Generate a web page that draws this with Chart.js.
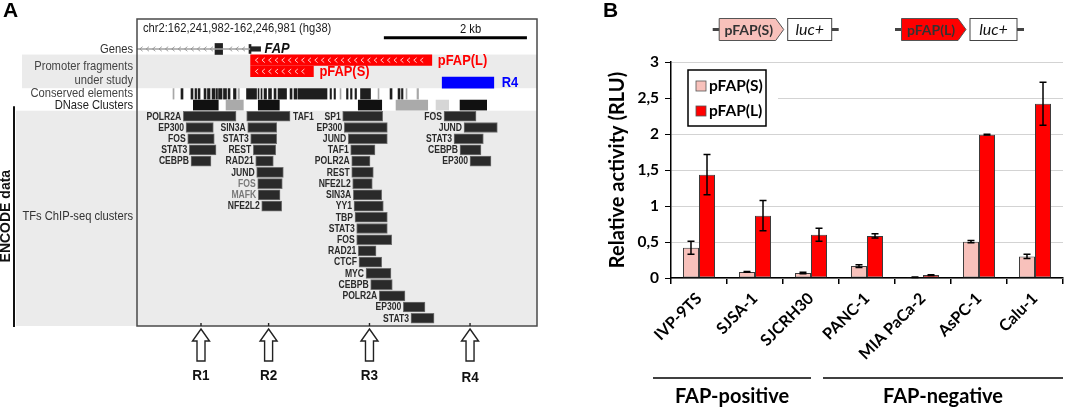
<!DOCTYPE html>
<html>
<head>
<title>FAP promoter activity</title>
<script src="https://cdn.jsdelivr.net/npm/chart.js"></script>
<style>
  body { margin: 0; background: #fff; }
  #wrap { position: relative; width: 1065px; height: 409px; overflow: hidden; }
  #chartA { position: absolute; left: 0; top: 0; }
  #chartB { position: absolute; left: 590px; top: 0; }
</style>
</head>
<body>
<div id="wrap">
  <canvas id="chartA" width="545" height="409"></canvas>
  <canvas id="chartB" width="475" height="409"></canvas>
</div>
<script>
// ---- Panel A: chr2:162,241,982-162,246,981 (hg38), positions in bp from window start
var windowText = 'chr2:162,241,982-162,246,981 (hg38)';
var scaleBar = [3090, 4870];
var geneLine = [0, 1410];
var geneExons = [[975, 1070]];
var geneTss = [1420, 1545];
var fragL = [1420, 3685];
var fragS = [1420, 2205];
var regionR4 = [3815, 4460];

var conserved = [[450,463],[550,575],[675,700],[725,745],[763,788],[838,863],[881,913],[938,975],
  [988,1006],[1019,1063],[1081,1119],[1138,1163],[1206,1238],[1263,1280],[1369,1494],[1513,1525],
  [1550,1563],[1588,1619],[1644,1681],[1713,1738],[1763,1869],[1913,1938],[1963,2000],[2013,2375],
  [2413,2431],[2463,2481],[2538,2550],[2619,2638],[2669,2688],[2725,2744],[2794,2919],[3013,3025],
  [3163,3188],[3263,3288],[3306,3325],[3363,3375],[3500,3519]];
var conservedGray = [0,13,26,31,35,36];

var dnase = [[704,1016],[1113,1329],[1516,1779],[2766,3059],[3238,3634],[3738,3896],[4038,4371]];
var dnaseShade = ['#111','#aaaaaa','#111','#111','#aaaaaa','#d6d6d6','#111'];

var tfR1 = ['POLR2A','EP300','FOS','STAT3','CEBPB'];
var tfR1Pos = [[579,1238],[613,954],[634,966],[654,988],[675,925]];
var tfR2 = ['TAF1','SIN3A','STAT3','REST','RAD21','JUND','FOS','MAFK','NFE2L2'];
var tfR2Pos = [[1371,1913],[1384,1746],[1421,1746],[1454,1734],[1484,1704],[1496,1829],[1509,1816],[1516,1788],[1559,1809]];
var tfR3 = ['SP1','EP300','JUND','TAF1','POLR2A','REST','NFE2L2','SIN3A','YY1','TBP','STAT3','FOS','RAD21','CTCF','MYC','CEBPB','POLR2A','EP300','STAT3'];
var tfR3Pos = [[2571,3071],[2591,3129],[2641,3129],[2671,2975],[2684,2913],[2684,2954],[2696,2941],[2704,3059],[2713,3079],[2725,3129],
  [2746,3129],[2746,3184],[2766,2988],[2775,3059],[2863,3175],[2921,3191],[3029,3350],[3329,3600],[3425,3713]];
var tfR4 = ['FOS','JUND','STAT3','CEBPB','EP300'];
var tfR4Pos = [[3838,4238],[4088,4504],[3963,4329],[4038,4300],[4163,4425]];

var arrowNames = ['R1','R2','R3','R4'];
var arrowPos = [800, 1645, 2906, 4163];

// ---- Panel B: luciferase assay
var cellLines = ['IVP-9TS','SJSA-1','SJCRH30','PANC-1','MIA PaCa-2','AsPC-1','Calu-1'];
var actS = [0.42, 0.085, 0.07, 0.165, 0.01, 0.505, 0.30];
var errS = [0.09, 0.005, 0.01, 0.02, 0.003, 0.015, 0.03];
var actL = [1.435, 0.865, 0.60, 0.585, 0.04, 1.99, 2.42];
var errL = [0.28, 0.21, 0.09, 0.03, 0.004, 0.005, 0.30];
var yTicks = [0, 0.5, 1, 1.5, 2, 2.5, 3];
var groupNames = ['FAP-positive', 'FAP-negative'];
var groupFirst = [0, 3];
var groupLast = [2, 6];

var SX = 0.86;
function txt(ctx, s, x, y, size, o) {
  o = o || {};
  ctx.save();
  ctx.font = (o.style || '') + ' ' + (o.weight || 'normal') + ' ' + size + 'px ' + (o.family || '"Liberation Sans", Arial, sans-serif');
  ctx.fillStyle = o.color || '#222';
  ctx.textAlign = o.align || 'left';
  ctx.textBaseline = 'middle';
  ctx.translate(x, y);
  if (o.rot) ctx.rotate(o.rot);
  ctx.scale(o.sx == null ? SX : o.sx, 1);
  ctx.fillText(s, 0, 0);
  ctx.restore();
}

function bars(list, row) { return list.map(function (r) { return { x: r, y: row }; }); }
function rows(list) { return list.map(function (r, i) { return { x: r, y: i }; }); }

var tfGroups = [
  { names: tfR1, pos: tfR1Pos, right: -1, gray: [] },
  { names: tfR2, pos: tfR2Pos, right: 0, gray: [6, 7] },
  { names: tfR3, pos: tfR3Pos, right: -1, gray: [] },
  { names: tfR4, pos: tfR4Pos, right: -1, gray: [] }
];

var dsA = [
  { data: [{ x: scaleBar, y: -7 }], backgroundColor: '#000', barThickness: 2.5 },
  { data: [{ x: geneLine, y: -6 }], backgroundColor: '#a0a0a0', barThickness: 1 },
  { data: bars(geneExons, -6), backgroundColor: '#222', barThickness: 11 },
  { data: [{ x: [1400, 1425], y: -6 }], backgroundColor: '#222', barThickness: 9 },
  { data: [{ x: geneTss, y: -6 }], backgroundColor: '#222', barThickness: 4.5 },
  { data: [{ x: fragL, y: -5 }], backgroundColor: '#ff0000', barThickness: 10.5 },
  { data: [{ x: fragS, y: -4 }], backgroundColor: '#ff0000', barThickness: 10.5 },
  { data: [{ x: regionR4, y: -3 }], backgroundColor: '#0000ff', barThickness: 11 },
  { data: bars(conserved, -2), barThickness: 10.5,
    backgroundColor: conserved.map(function (c, i) { return conservedGray.indexOf(i) >= 0 ? '#a8a8a8' : '#1e1e1e'; }) },
  { data: bars(dnase, -1), backgroundColor: dnaseShade, barThickness: 10 }
];
tfGroups.forEach(function (g) {
  dsA.push({ data: rows(g.pos), backgroundColor: '#2a2a2a', borderColor: '#707070', borderWidth: 1,
    barThickness: 10, tf: g });
});

var panelA = {
  id: 'panelA',
  beforeDatasetsDraw: function (chart) {
    var ctx = chart.ctx, ca = chart.chartArea, y = chart.scales.y;
    ctx.save();
    ctx.fillStyle = '#ebebeb';
    var t = y.getPixelForValue(-5.5), b = y.getPixelForValue(-2.5);
    ctx.fillRect(22, t, ca.right - 22, b - t);
    var e = y.getPixelForValue(-0.5);
    ctx.fillRect(16, e, ca.right - 16, ca.bottom - e);
    ctx.restore();
  },
  afterDatasetsDraw: function (chart) {
    var ctx = chart.ctx, x = chart.scales.x, y = chart.scales.y, ca = chart.chartArea;
    // chevrons on gene line
    ctx.save();
    ctx.strokeStyle = '#8a8a8a'; ctx.lineWidth = 0.8;
    var gy = y.getPixelForValue(-6);
    for (var px = x.getPixelForValue(geneLine[0]) + 4; px < x.getPixelForValue(geneLine[1]) - 3; px += 6.4) {
      var inExon = geneExons.some(function (e) { return px > x.getPixelForValue(e[0]) - 3 && px < x.getPixelForValue(e[1]) + 2; });
      if (inExon) continue;
      ctx.beginPath(); ctx.moveTo(px + 1.6, gy - 2.3); ctx.lineTo(px - 1.2, gy); ctx.lineTo(px + 1.6, gy + 2.3); ctx.stroke();
    }
    // chevrons inside promoter fragments
    ctx.strokeStyle = '#fff'; ctx.lineWidth = 0.8;
    [[fragL, -5], [fragS, -4]].forEach(function (f) {
      var cy = y.getPixelForValue(f[1]);
      for (var p = x.getPixelForValue(f[0][0]) + 6; p < x.getPixelForValue(f[0][1]) - 8; p += 6.6) {
        ctx.beginPath(); ctx.moveTo(p + 1.6, cy - 2.4); ctx.lineTo(p - 1.2, cy); ctx.lineTo(p + 1.6, cy + 2.4); ctx.stroke();
      }
    });
    ctx.restore();
    // TF labels
    chart.data.datasets.forEach(function (ds, di) {
      if (!ds.tf) return;
      var meta = chart.getDatasetMeta(di);
      meta.data.forEach(function (el, i) {
        var l = Math.min(el.x, el.base), r = Math.max(el.x, el.base);
        var col = ds.tf.gray.indexOf(i) >= 0 ? '#7a7a7a' : '#2a2a2a';
        if (ds.tf.right === i) txt(ctx, ds.tf.names[i], r + 3, el.y + 0.5, 10, { weight: 'bold', color: col, align: 'left' });
        else txt(ctx, ds.tf.names[i], l - 2, el.y + 0.5, 10, { weight: 'bold', color: col, align: 'right' });
      });
    });
  },
  afterDraw: function (chart) {
    var ctx = chart.ctx, x = chart.scales.x, y = chart.scales.y, ca = chart.chartArea;
    ctx.save();
    ctx.strokeStyle = '#4a4a4a'; ctx.lineWidth = 1.5;
    ctx.strokeRect(ca.left, ca.top, ca.right - ca.left, ca.bottom - ca.top);
    // ENCODE bracket
    ctx.strokeStyle = '#111'; ctx.lineWidth = 2;
    ctx.beginPath(); ctx.moveTo(14, y.getPixelForValue(-0.9)); ctx.lineTo(14, ca.bottom + 1); ctx.stroke();
    ctx.restore();

    txt(ctx, 'A', 3, 11, 21, { weight: 'bold', color: '#000', sx: 1 });
    txt(ctx, windowText, ca.left + 6, y.getPixelForValue(-7.8), 13, { color: '#222' });
    txt(ctx, '2 kb', x.getPixelForValue(4170), y.getPixelForValue(-7.7), 13, { color: '#111', align: 'center' });
    txt(ctx, 'FAP', x.getPixelForValue(geneTss[1]) + 4, y.getPixelForValue(-6.05), 15, { style: 'italic', weight: 'bold', color: '#111' });
    txt(ctx, 'pFAP(L)', x.getPixelForValue(fragL[1]) + 6, y.getPixelForValue(-4.95), 15, { weight: 'bold', color: '#ff0000' });
    txt(ctx, 'pFAP(S)', x.getPixelForValue(fragS[1]) + 6, y.getPixelForValue(-3.95), 15, { weight: 'bold', color: '#ff0000' });
    txt(ctx, 'R4', x.getPixelForValue(regionR4[1]) + 8, y.getPixelForValue(-3), 15, { weight: 'bold', color: '#0000ff' });

    var lx = 133;
    txt(ctx, 'Genes', lx, y.getPixelForValue(-5.95), 13, { align: 'right', color: '#333' });
    txt(ctx, 'Promoter fragments', lx, y.getPixelForValue(-4.45), 13, { align: 'right', color: '#444' });
    txt(ctx, 'under study', lx, y.getPixelForValue(-3.2), 13, { align: 'right', color: '#444' });
    txt(ctx, 'Conserved elements', lx, y.getPixelForValue(-2), 13, { align: 'right', color: '#444' });
    txt(ctx, 'DNase Clusters', lx, y.getPixelForValue(-1), 13, { align: 'right', color: '#222' });
    txt(ctx, 'TFs ChIP-seq clusters', lx, y.getPixelForValue(8.9), 13, { align: 'right', color: '#333' });
    txt(ctx, 'ENCODE data', 6, y.getPixelForValue(8.9), 14, { weight: 'bold', color: '#111', align: 'center', rot: -Math.PI / 2, sx: 1 });

    // open arrows below the window
    ctx.save();
    ctx.strokeStyle = '#222'; ctx.lineWidth = 1.4; ctx.fillStyle = '#fff';
    arrowPos.forEach(function (p, i) {
      var ax = x.getPixelForValue(p), top = ca.bottom + 3;
      ctx.beginPath(); ctx.moveTo(ax, ca.bottom); ctx.lineTo(ax, ca.bottom - 3); ctx.stroke();
      ctx.beginPath();
      ctx.moveTo(ax, top); ctx.lineTo(ax + 8.5, top + 12); ctx.lineTo(ax + 4, top + 12); ctx.lineTo(ax + 4, top + 32);
      ctx.lineTo(ax - 4, top + 32); ctx.lineTo(ax - 4, top + 12); ctx.lineTo(ax - 8.5, top + 12); ctx.closePath();
      ctx.fill(); ctx.stroke();
      txt(ctx, arrowNames[i], ax, top + (i === 3 ? 49 : 47), 15, { weight: 'bold', color: '#111', align: 'center', sx: 0.9 });
    });
    ctx.restore();
  }
};

new Chart(document.getElementById('chartA'), {
  type: 'bar',
  data: { datasets: dsA },
  options: {
    indexAxis: 'y',
    responsive: false,
    animation: false,
    devicePixelRatio: 1,
    datasets: { bar: { grouped: false, borderSkipped: false } },
    layout: { padding: { left: 137, right: 8, top: 19, bottom: 83 } },
    scales: {
      x: { type: 'linear', min: 0, max: 5000, display: false },
      y: { type: 'linear', min: -8.67, max: 18.69, reverse: true, offset: false, display: false }
    },
    plugins: { legend: { display: false }, tooltip: { enabled: false } }
  },
  plugins: [panelA]
});

// ---- Panel B
var LATO = 'Lato, "Open Sans", sans-serif';
function drawConstruct(ctx, x0, label, fill, lucW) {
  var t = 18.5, b = 40.5, m = (t + b) / 2;
  ctx.save();
  ctx.strokeStyle = '#444'; ctx.lineWidth = 3;
  ctx.beginPath(); ctx.moveTo(x0, m); ctx.lineTo(x0 + 7, m); ctx.stroke();
  ctx.beginPath(); ctx.moveTo(x0 + 75 + lucW, m); ctx.lineTo(x0 + 82 + lucW, m); ctx.stroke();
  ctx.fillStyle = fill; ctx.strokeStyle = '#555'; ctx.lineWidth = 1;
  ctx.beginPath();
  ctx.moveTo(x0 + 6.5, t); ctx.lineTo(x0 + 63, t); ctx.lineTo(x0 + 71, m); ctx.lineTo(x0 + 63, b); ctx.lineTo(x0 + 6.5, b);
  ctx.closePath(); ctx.fill(); ctx.stroke();
  ctx.fillStyle = '#fff'; ctx.strokeStyle = '#444';
  ctx.fillRect(x0 + 75, t, lucW, b - t); ctx.strokeRect(x0 + 75, t, lucW, b - t);
  ctx.restore();
  txt(ctx, label, x0 + 36, m + 0.5, 14, { weight: 'bold', color: '#333', align: 'center', sx: 1, family: LATO });
  txt(ctx, 'luc+', x0 + 75 + lucW / 2, m + 0.5, 16, { style: 'italic', color: '#111', align: 'center', sx: 1, family: LATO });
}

var panelB = {
  id: 'panelB',
  afterDatasetsDraw: function (chart) {
    var ctx = chart.ctx, y = chart.scales.y, ca = chart.chartArea;
    // error bars
    ctx.save();
    ctx.strokeStyle = '#000'; ctx.lineWidth = 1.5;
    chart.data.datasets.forEach(function (ds, di) {
      chart.getDatasetMeta(di).data.forEach(function (el, i) {
        var v = ds.data[i], e = ds.err[i];
        var yt = y.getPixelForValue(v + e), yb = y.getPixelForValue(v - e);
        ctx.beginPath();
        ctx.moveTo(el.x, yt); ctx.lineTo(el.x, yb);
        ctx.moveTo(el.x - 3.5, yt); ctx.lineTo(el.x + 3.5, yt);
        ctx.moveTo(el.x - 3.5, yb); ctx.lineTo(el.x + 3.5, yb);
        ctx.stroke();
      });
    });
    ctx.restore();
    // legend box
    ctx.save();
    ctx.fillStyle = '#fff';
    ctx.fillRect(ca.left + 1, 65, 106, 65);
    var bx = ca.left + 17, by = 70;
    ctx.strokeStyle = '#000'; ctx.lineWidth = 1.5;
    ctx.strokeRect(bx, by, 78, 56);
    chart.data.datasets.forEach(function (ds, i) {
      var cy = by + 16 + i * 25;
      ctx.fillStyle = ds.backgroundColor; ctx.strokeStyle = '#555'; ctx.lineWidth = 0.8;
      ctx.fillRect(bx + 8, cy - 5, 10, 10); ctx.strokeRect(bx + 8, cy - 5, 10, 10);
      txt(ctx, ds.label, bx + 21, cy, 15.5, { weight: 'bold', color: '#000', sx: 1, family: LATO });
    });
    ctx.restore();
  },
  afterDraw: function (chart) {
    var ctx = chart.ctx, x = chart.scales.x, ca = chart.chartArea;
    txt(ctx, 'B', 13, 11, 21, { weight: 'bold', color: '#000', sx: 1 });
    drawConstruct(ctx, 122.7, 'pFAP(S)', '#f8c1bb', 44);
    drawConstruct(ctx, 305, 'pFAP(L)', '#ff0000', 47);
    ctx.save();
    ctx.strokeStyle = '#000'; ctx.lineWidth = 1.5;
    groupNames.forEach(function (g, i) {
      var x1 = x.getPixelForValue(groupFirst[i]) - (i === 0 ? 46 : 44);
      var x2 = i === groupNames.length - 1 ? ca.right : x.getPixelForValue(groupLast[i]);
      ctx.beginPath(); ctx.moveTo(x1, 378); ctx.lineTo(x2, 378); ctx.stroke();
      txt(ctx, g, (x1 + x2) / 2, 397, 20, { weight: 'bold', color: '#000', align: 'center', sx: 1, family: LATO });
    });
    ctx.restore();
  }
};

new Chart(document.getElementById('chartB'), {
  type: 'bar',
  data: {
    labels: cellLines,
    datasets: [
      { label: 'pFAP(S)', data: actS, err: errS, backgroundColor: '#f8c1bb', borderColor: '#3c3c3c', borderWidth: 1 },
      { label: 'pFAP(L)', data: actL, err: errL, backgroundColor: '#ff0000', borderColor: '#3c3c3c', borderWidth: 1 }
    ]
  },
  options: {
    responsive: false,
    animation: false,
    devicePixelRatio: 1,
    categoryPercentage: 0.572,
    barPercentage: 1,
    datasets: { bar: { borderSkipped: false } },
    layout: { padding: { left: 0, right: 2, top: 62, bottom: 0 } },
    scales: {
      x: {
        grid: { offset: true, drawOnChartArea: false, tickLength: 6, tickColor: '#000', lineWidth: 1.5 },
        border: { color: '#000', width: 1.5 },
        ticks: { color: '#000', font: { family: LATO, weight: 'bold', size: 16 }, minRotation: 45, maxRotation: 45, autoSkip: false, padding: 5 },
        afterFit: function (s) { s.height = 131; }
      },
      y: {
        min: 0, max: 3,
        afterBuildTicks: function (s) { s.ticks = yTicks.map(function (v) { return { value: v }; }); },
        ticks: { color: '#000', font: { family: LATO, weight: 'bold', size: 15.5 }, padding: 6,
          callback: function (v) { return String(v).replace('.', ','); } },
        grid: { color: '#d3d3d3', tickColor: '#000', tickLength: 6 },
        border: { color: '#000', width: 1.5 },
        title: { display: true, text: 'Relative activity (RLU)', color: '#000',
          font: { family: LATO, weight: 'bold', size: 20 }, padding: { top: 16, bottom: 0 } },
        afterFit: function (s) { s.width = 81; }
      }
    },
    plugins: { legend: { display: false }, tooltip: { enabled: false } }
  },
  plugins: [panelB]
});
</script>
</body>
</html>
